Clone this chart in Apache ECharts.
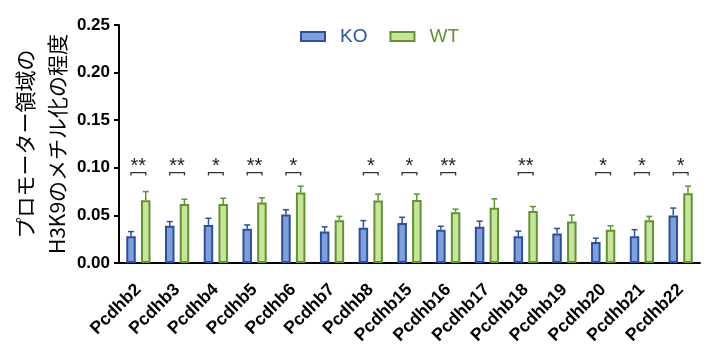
<!DOCTYPE html>
<html>
<head>
<meta charset="utf-8">
<script src="https://cdn.jsdelivr.net/npm/echarts@6/dist/echarts.min.js"></script>
<style>
  html, body { margin: 0; padding: 0; background: #fff; }
  #chart { width: 720px; height: 353px; }
</style>
</head>
<body>
<div id="chart"></div>
<script>
// data
const categories = ['Pcdhb2', 'Pcdhb3', 'Pcdhb4', 'Pcdhb5', 'Pcdhb6', 'Pcdhb7', 'Pcdhb8', 'Pcdhb15',
  'Pcdhb16', 'Pcdhb17', 'Pcdhb18', 'Pcdhb19', 'Pcdhb20', 'Pcdhb21', 'Pcdhb22'];
const koValues = [0.028, 0.039, 0.040, 0.036, 0.051, 0.033, 0.037, 0.042, 0.035, 0.038, 0.028, 0.031, 0.022, 0.028, 0.050];
const koErrors = [0.005, 0.0045, 0.007, 0.004, 0.005, 0.005, 0.0075, 0.006, 0.0036, 0.006, 0.0055, 0.0053, 0.004, 0.007, 0.0077];
const wtValues = [0.066, 0.062, 0.062, 0.0635, 0.074, 0.045, 0.0656, 0.0663, 0.0534, 0.058, 0.0545, 0.0436, 0.035, 0.045, 0.0733];
const wtErrors = [0.009, 0.005, 0.006, 0.005, 0.0067, 0.004, 0.0067, 0.006, 0.0032, 0.0094, 0.0048, 0.0067, 0.004, 0.004, 0.0074];
const significance = ['**', '**', '*', '**', '*', '', '*', '*', '**', '', '**', '', '*', '*', '*'];
const bracketLevel = 0.095;
const yTicks = [0, 0.05, 0.10, 0.15, 0.20, 0.25];
const yTitle = 'プロモーター領域の\nH3K9のメチル化の程度';

const koFill = '#7f9fd8', koLine = '#2d4f9c';
const wtFill = '#c9e39b', wtLine = '#5f9334';
const barW = 9.5, gapRatio = 0.55;
const half = (barW + barW * gapRatio) / 2;

function errorItem(offset, color) {
  return function (params, api) {
    const i = api.value(0);
    const base = api.coord([i, api.value(1)]);
    const top = api.coord([i, api.value(1) + api.value(2)]);
    const x = base[0] + offset;
    return {
      type: 'group',
      children: [
        { type: 'line', shape: { x1: x, y1: base[1], x2: x, y2: top[1] }, style: { stroke: color, lineWidth: 1.5 } },
        { type: 'line', shape: { x1: x - 3, y1: top[1], x2: x + 3, y2: top[1] }, style: { stroke: color, lineWidth: 1.5 } }
      ]
    };
  };
}

function sigItem(params, api) {
  const i = api.value(0);
  const text = significance[i];
  if (!text) return null;
  const p = api.coord([i, bracketLevel]);
  const x1 = p[0] - half, x2 = p[0] + half;
  return {
    type: 'group',
    children: [
      { type: 'polyline', shape: { points: [[x1, p[1] + 3], [x1, p[1]], [x2, p[1]], [x2, p[1] + 3]] },
        style: { stroke: '#333', lineWidth: 1.3, fill: null } },
      { type: 'text', x: p[0], y: p[1] - 6,
        style: { text: text, fill: '#222', font: '20px "Liberation Sans", Arial', align: 'center', verticalAlign: 'middle' } }
    ]
  };
}

const chart = echarts.init(document.getElementById('chart'), null, { renderer: 'canvas' });
chart.setOption({
  animation: false,
  backgroundColor: '#fff',
  grid: { left: 119, right: 20, top: 25, bottom: 90, containLabel: false, outerBoundsMode: 'none' },
  graphic: [{
    type: 'text', x: 41, y: 144, rotation: Math.PI / 2,
    style: {
      text: yTitle, fill: '#000', font: '21px "Noto Sans CJK JP"', lineHeight: 32,
      align: 'center', verticalAlign: 'middle'
    }
  }],
  legend: {
    data: [
      { name: 'KO', textStyle: { color: koLine } },
      { name: 'WT', textStyle: { color: wtLine } }
    ],
    left: 295, top: 22,
    icon: 'rect',
    itemWidth: 24, itemHeight: 9, itemGap: 22,
    textStyle: { fontSize: 19, fontFamily: '"Liberation Sans", Arial', padding: [0, 0, 0, 10] }
  },
  xAxis: {
    type: 'category',
    data: categories,
    axisLine: { lineStyle: { color: '#000', width: 2 } },
    axisTick: { alignWithLabel: true, length: 5, lineStyle: { color: '#000', width: 2 } },
    axisLabel: {
      rotate: 45, margin: 24, color: '#000', fontWeight: 'bold', fontSize: 17.5,
      fontFamily: '"Liberation Sans", Arial', interval: 0
    }
  },
  yAxis: {
    type: 'value',
    min: yTicks[0], max: yTicks[yTicks.length - 1], interval: 0.05,
    axisLine: { show: true, lineStyle: { color: '#000', width: 2 } },
    axisTick: { show: true, length: 5, lineStyle: { color: '#000', width: 2 } },
    splitLine: { show: false },
    axisLabel: {
      color: '#000', fontWeight: 'bold', fontSize: 17, margin: 9,
      fontFamily: '"Liberation Sans", Arial',
      formatter: v => v.toFixed(2)
    }
  },
  series: [
    {
      name: 'KO', type: 'bar', data: koValues, barWidth: barW, barGap: (gapRatio * 100) + '%',
      itemStyle: { color: koFill, borderColor: koLine, borderWidth: 2 }
    },
    {
      name: 'WT', type: 'bar', data: wtValues, barWidth: barW,
      itemStyle: { color: wtFill, borderColor: wtLine, borderWidth: 2 }
    },
    {
      type: 'custom', name: 'koErr', renderItem: errorItem(-half, koLine), z: 3,
      data: koValues.map((v, i) => [i, v, koErrors[i]])
    },
    {
      type: 'custom', name: 'wtErr', renderItem: errorItem(half, wtLine), z: 3,
      data: wtValues.map((v, i) => [i, v, wtErrors[i]])
    },
    {
      type: 'custom', name: 'sig', renderItem: sigItem, z: 4,
      data: categories.map((c, i) => [i, bracketLevel])
    }
  ]
});
</script>
</body>
</html>
